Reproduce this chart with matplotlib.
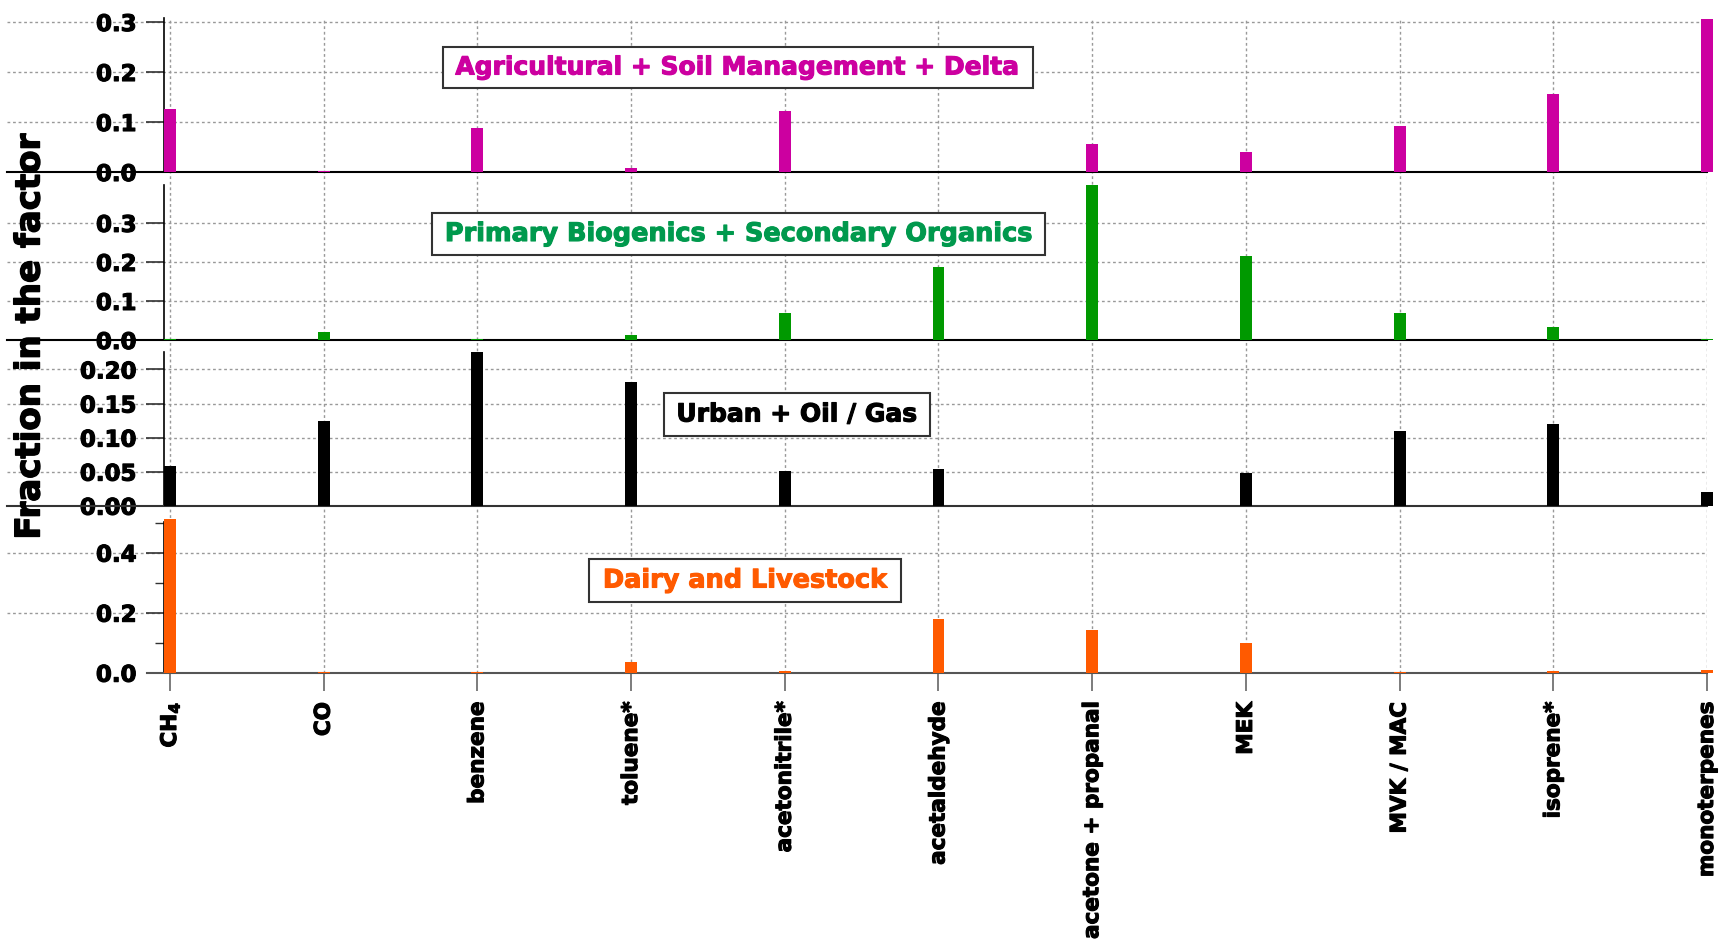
import matplotlib
matplotlib.use("Agg")
import matplotlib.pyplot as plt
from matplotlib.ticker import FormatStrFormatter, FixedLocator
from matplotlib.patches import Rectangle
import matplotlib.patheffects as pe

plt.rcParams['font.family'] = ['DejaVu Sans']
plt.rcParams['font.weight'] = 'bold'
plt.rcParams['mathtext.fontset'] = 'custom'
plt.rcParams['mathtext.rm'] = 'DejaVu Sans:bold'
plt.rcParams['mathtext.bf'] = 'DejaVu Sans:bold'
plt.rcParams['mathtext.it'] = 'DejaVu Sans:bold'

# ---- data ----
categories = ['CH$_4$', 'CO', 'benzene', 'toluene*', 'acetonitrile*', 'acetaldehyde',
              'acetone + propanal', 'MEK', 'MVK / MAC', 'isoprene*', 'monoterpenes']
agri = [0.126, 0.002, 0.089, 0.008, 0.122, 0.001, 0.057, 0.041, 0.093, 0.156, 0.307]
bio = [0.002, 0.020, 0.002, 0.014, 0.070, 0.186, 0.397, 0.214, 0.068, 0.034, 0.002]
urban = [0.058, 0.1245, 0.226, 0.181, 0.0515, 0.0535, 0.0, 0.0485, 0.110, 0.120, 0.0197]
dairy = [0.512, 0.002, 0.002, 0.037, 0.004, 0.180, 0.143, 0.100, 0.002, 0.006, 0.009]

factor_names = ['Agricultural + Soil Management + Delta',
                'Primary Biogenics + Secondary Organics',
                'Urban + Oil / Gas',
                'Dairy and Livestock']

W, H = 1720, 941
fig = plt.figure(figsize=(W / 100, H / 100), dpi=100)

def fx(px):
    return px / W

def fy(py):
    return 1 - py / H

left_px, right_px = 164, 1707
x = list(range(len(categories)))
xlim = (-0.039, 10.0)
ext = (7 - left_px) / (right_px - left_px)

panels = [
    (18, 172, 0.308, [0.0, 0.1, 0.2, 0.3], [], '%.1f', agri, '#CC00A0', '#CC00A0', ext, 'black'),
    (185, 340, 0.397, [0.0, 0.1, 0.2, 0.3], [], '%.1f', bio, '#009900', '#00994D', ext, 'black'),
    (352, 505.7, 0.2256, [0.0, 0.05, 0.10, 0.15, 0.20], [], '%.2f', urban, '#000000', '#000000', ext, '#333333'),
    (522, 672.7, 0.502, [0.0, 0.2, 0.4], [0.1, 0.3, 0.5], '%.1f', dairy, '#FF5A00', '#FF5A00',
     (147 - left_px) / (right_px - left_px), '#555555'),
]

bg = fig.add_axes([fx(left_px), fy(672.7), fx(right_px - left_px), (672.7 - 18) / H], zorder=0)
bg.set_xlim(xlim)
bg.set_ylim(0, 1)
bg.axis('off')
for xi in x:
    bg.axvline(xi, color='#999999', lw=1.0, ls=(0, (2, 2)), zorder=0)

grid_kw = dict(color='#999999', lw=1.0, ls=(0, (2, 2)), clip_on=False, zorder=1)

box_px = [(443, 47, 1033, 88), (432, 213, 1045, 255), (664, 393, 930, 436), (589, 559, 901, 602)]
text_sizes = [18.0, 18.4, 18.0, 18.4]

for i, (top, bot, ymax, ticks, minor, fmt, vals, bc, tc, zext, zc) in enumerate(panels):
    ax = fig.add_axes([fx(left_px), fy(bot), fx(right_px - left_px), (bot - top) / H], zorder=2)
    ax.set_facecolor('none')
    ax.set_xlim(xlim)
    ax.set_ylim(0, ymax)
    for s in ['top', 'right', 'bottom']:
        ax.spines[s].set_visible(False)
    ax.spines['left'].set_linewidth(1.2)
    ax.yaxis.set_major_locator(FixedLocator(ticks))
    ax.yaxis.set_major_formatter(FormatStrFormatter(fmt))
    if minor:
        ax.yaxis.set_minor_locator(FixedLocator(minor))
        ax.tick_params(axis='y', which='minor', direction='out', length=6.5, width=1.0, color='#333333')
    ax.tick_params(axis='y', which='major', direction='out', length=12.7, width=1.2, pad=7,
                   labelsize=16.5, color='#333333')
    for lab in ax.get_yticklabels():
        lab.set_path_effects([pe.withStroke(linewidth=0.8, foreground='black')])
    for t in ticks:
        if t > 0:
            ax.axhline(t, xmin=ext, xmax=1, **grid_kw)
    ax.axhline(0, xmin=zext, xmax=1, color=zc, lw=1.5, clip_on=False, zorder=3)
    ax.bar(x, vals, width=0.078, color=bc, clip_on=False, zorder=4, linewidth=0)
    if i < 3:
        ax.set_xticks([])
    else:
        ax.set_xticks(x)
        ax.set_xticklabels(categories, rotation=90, fontsize=15.5, fontweight='bold')
        ax.tick_params(axis='x', direction='out', length=13, width=1.2, color='#666666', pad=8)
        for lab in ax.get_xticklabels():
            lab.set_path_effects([pe.withStroke(linewidth=0.8, foreground='black')])

    x0, y0, x1, y1 = box_px[i]
    fig.patches.append(Rectangle((fx(x0), fy(y1)), fx(x1 - x0), (y1 - y0) / H,
                                 transform=fig.transFigure, facecolor='white',
                                 edgecolor='#333333', lw=1.5, zorder=5))
    fig.text(fx((x0 + x1) / 2), fy((y0 + y1) / 2), factor_names[i], color=tc,
             fontsize=text_sizes[i], fontweight='bold', ha='center', va='center', zorder=6,
             path_effects=[pe.withStroke(linewidth=0.8, foreground=tc)])

fig.text(fx(30), fy(336.5), 'Fraction in the factor', rotation=90, fontsize=24.5,
         fontweight='bold', ha='center', va='center',
         path_effects=[pe.withStroke(linewidth=1.0, foreground='black')])

fig.savefig('out.png', dpi=100)
